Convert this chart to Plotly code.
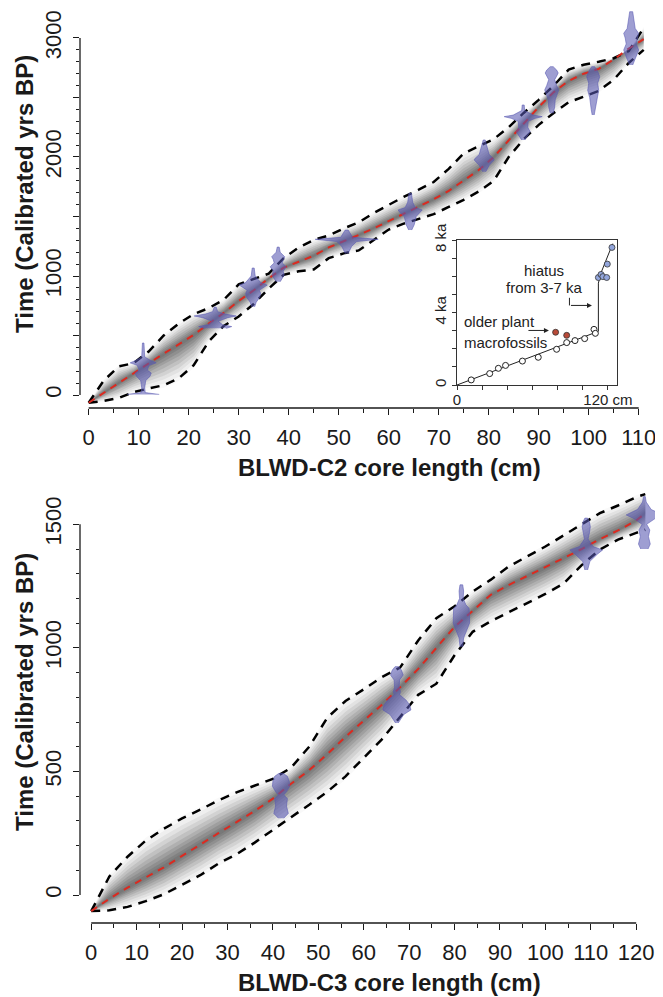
import numpy as np
import plotly.graph_objects as go

# ---------------- BLWD-C2 age-depth model ----------------
c2_depth = list(range(0, 112, 3))
c2_mean = [-65, 18, 100, 180, 265, 348, 425, 505, 600, 690, 790, 880, 980, 1070, 1120, 1170,
           1240, 1290, 1345, 1400, 1460, 1520, 1580, 1645, 1715, 1800, 1890, 2000, 2140, 2285,
           2420, 2545, 2640, 2700, 2740, 2820, 2910, 2990]
c2_upper = [-65, 120, 240, 268, 365, 500, 600, 680, 730, 800, 930, 975, 1020, 1150, 1240, 1303,
            1340, 1400, 1450, 1530, 1600, 1665, 1725, 1790, 1900, 2030, 2090, 2150, 2250, 2370,
            2480, 2600, 2735, 2775, 2800, 2830, 2890, 3085]
c2_lower = [-65, -50, -25, 25, 55, 82, 140, 250, 450, 580, 660, 765, 895, 1010, 1040, 1055,
            1150, 1190, 1215, 1300, 1390, 1440, 1480, 1520, 1580, 1640, 1710, 1800, 2000, 2150,
            2270, 2370, 2460, 2510, 2555, 2650, 2790, 2900]

# calibrated date distributions for C2: depth, ages, half-widths (cm)
c2_dates = [
    (10.9, [5, 12, 20, 60, 120, 160, 185, 210, 250, 270, 290, 320, 380, 437],
           [3.2, 1.5, 0.4, 0.3, 0.5, 1.4, 1.6, 0.8, 1.2, 2.6, 1.5, 0.3, 0.25, 0.15]),
    (25.3, [560, 575, 590, 620, 650, 664, 680, 700, 739],
           [2.2, 3.3, 1.5, 0.6, 2.5, 4.2, 2.0, 0.5, 0.2]),
    (32.9, [742, 780, 820, 855, 880, 905, 924, 945, 1000, 1067],
           [0.3, 0.6, 1.3, 1.5, 1.2, 2.2, 2.8, 1.5, 0.4, 0.2]),
    (37.9, [952, 990, 1008, 1040, 1078, 1110, 1140, 1162, 1200, 1243],
           [0.4, 1.0, 1.2, 1.0, 1.6, 0.8, 1.0, 1.3, 0.4, 0.2]),
    (51.6, [1190, 1250, 1290, 1308, 1325, 1350, 1386],
           [0.3, 1.0, 2.0, 6.3, 1.2, 0.8, 0.3]),
    (64.3, [1386, 1430, 1500, 1540, 1555, 1575, 1620, 1695],
           [0.3, 0.8, 1.2, 2.2, 2.4, 1.0, 0.5, 0.25]),
    (79.1, [1876, 1930, 1975, 1990, 2020, 2080, 2143],
           [0.3, 1.0, 2.0, 1.8, 1.0, 0.6, 0.2]),
    (86.9, [2143, 2180, 2213, 2250, 2300, 2325, 2339, 2352, 2390, 2437],
           [0.3, 0.9, 1.4, 0.9, 1.0, 2.4, 3.8, 2.0, 0.3, 0.2]),
    (92.6, [2368, 2420, 2480, 2530, 2563, 2600, 2650, 2680, 2706, 2730, 2759],
           [0.3, 0.6, 0.7, 1.1, 1.4, 1.0, 0.6, 1.0, 1.3, 1.0, 0.3]),
    (100.9, [2353, 2400, 2500, 2560, 2620, 2675, 2710, 2759],
            [0.2, 0.4, 0.7, 1.1, 0.9, 1.3, 1.0, 0.3]),
    (108.5, [2773, 2830, 2899, 2950, 3000, 3039, 3080, 3150, 3221],
            [0.3, 0.9, 1.5, 1.0, 1.2, 1.5, 0.8, 0.6, 0.3]),
]

# ---------------- BLWD-C3 age-depth model ----------------
c3_depth = list(range(0, 121, 4)) + [122]
c3_mean = [-65, -15, 30, 70, 112, 158, 205, 250, 295, 340, 390, 450, 505, 570, 640, 705,
           770, 840, 915, 1000, 1085, 1150, 1215, 1255, 1290, 1325, 1363, 1400, 1440, 1475,
           1515, 1545]
c3_upper = [-65, 75, 155, 220, 268, 310, 345, 383, 415, 443, 470, 515, 600, 718, 785, 832,
            882, 920, 1030, 1120, 1168, 1228, 1276, 1330, 1370, 1410, 1455, 1500, 1545, 1576,
            1610, 1622]
c3_lower = [-65, -62, -48, -25, 3, 40, 80, 127, 165, 212, 265, 315, 365, 418, 480, 555,
            630, 720, 810, 855, 970, 1065, 1108, 1145, 1180, 1218, 1260, 1335, 1398, 1438,
            1465, 1478]

c3_dates = [
    (41.8, [311, 330, 360, 390, 405, 418, 440, 460, 480, 492],
           [0.6, 1.6, 1.2, 1.4, 0.6, 1.2, 1.9, 1.8, 1.4, 0.5]),
    (67.3, [696, 730, 749, 770, 789, 810, 823, 840, 870, 890, 910, 924],
           [0.3, 1.5, 3.1, 2.8, 2.0, 0.6, 0.8, 0.5, 0.6, 1.4, 1.0, 0.4]),
    (81.5, [1005, 1040, 1072, 1100, 1130, 1160, 1174, 1200, 1230, 1255],
           [0.3, 0.5, 1.2, 1.8, 1.8, 1.7, 1.0, 0.4, 0.5, 0.3]),
    (109.0, [1315, 1350, 1380, 1396, 1410, 1440, 1465, 1490, 1510, 1525],
            [0.3, 0.8, 2.5, 3.6, 1.5, 0.4, 0.7, 0.9, 0.7, 0.3]),
    (121.8, [1400, 1420, 1450, 1477, 1500, 1525, 1538, 1560, 1590, 1612],
            [0.8, 1.3, 0.9, 1.2, 0.5, 2.5, 4.0, 1.5, 0.4, 0.2]),
]

# ---------------- inset (full core) ----------------
inset_line_x = [0, 111.5, 112.4, 112.4, 114.5, 123.8]
inset_line_y = [0, 2.95, 2.96, 5.62, 6.19, 7.8]
inset_open_x = [11.3, 26.0, 32.9, 38.6, 52.0, 64.6, 79.2, 87.2, 93.8, 101.5, 108.9, 110.0]
inset_open_y = [0.28, 0.63, 0.92, 1.08, 1.32, 1.53, 1.97, 2.34, 2.45, 2.56, 3.07, 2.85]
inset_red_x = [78.4, 87.2]
inset_red_y = [2.91, 2.74]
inset_blue_x = [112.4, 114.5, 116.0, 119.0, 119.5, 123.2]
inset_blue_y = [5.93, 6.10, 5.98, 5.93, 6.67, 7.59]

FONT = "Liberation Sans, Arial, Helvetica, sans-serif"
INK = "#1a1a1a"
VIOLIN = "rgba(88,88,178,0.58)"

# page body has an 8px margin: figure is sized to fit inside the 663x997 window
W, H = 655, 989
ML, MB = 72, 74
PH = H - MB          # plot-area height (top margin 0)

fig = go.Figure()


def add_model(depth, mean, upper, lower, dates, xa, ya):
    d = np.array(depth, float)
    m = np.array(mean, float)
    u = np.array(upper, float)
    lo = np.array(lower, float)
    # grey cloud built from nested bands (lighter towards the dashed bounds)
    bands = [(1.08, 0.03), (0.95, 0.05), (0.82, 0.07), (0.7, 0.09), (0.58, 0.11),
             (0.46, 0.12), (0.35, 0.14), (0.25, 0.15), (0.15, 0.15), (0.07, 0.12)]
    for f, a in bands:
        up = m + f * (u - m)
        dn = m - f * (m - lo)
        fig.add_trace(go.Scatter(
            x=np.concatenate([d, d[::-1]]), y=np.concatenate([up, dn[::-1]]),
            fill="toself", fillcolor=f"rgba(55,55,55,{a})", line=dict(width=0),
            mode="lines", hoverinfo="skip", xaxis=xa, yaxis=ya))
    for arr in (upper, lower):
        fig.add_trace(go.Scatter(x=depth, y=arr, mode="lines",
                                 line=dict(color="black", width=2.5, dash="9px,7px"),
                                 xaxis=xa, yaxis=ya))
    fig.add_trace(go.Scatter(x=depth, y=mean, mode="lines",
                             line=dict(color="#dc2a20", width=2, dash="7px,6px"),
                             xaxis=xa, yaxis=ya))
    for dep, ages, w in dates:
        xs = [dep + v for v in w] + [dep - v for v in w[::-1]]
        ys = list(ages) + list(ages[::-1])
        fig.add_trace(go.Scatter(x=xs, y=ys, fill="toself", fillcolor=VIOLIN,
                                 line=dict(color="rgba(88,88,178,0.7)", width=0.8),
                                 mode="lines", xaxis=xa, yaxis=ya))


add_model(c2_depth, c2_mean, c2_upper, c2_lower, c2_dates, "x", "y")
add_model(c3_depth, c3_mean, c3_upper, c3_lower, c3_dates, "x2", "y2")

# inset traces
fig.add_trace(go.Scatter(x=inset_line_x, y=inset_line_y, mode="lines",
                         line=dict(color="#222", width=1), xaxis="x3", yaxis="y3"))
fig.add_trace(go.Scatter(x=inset_open_x, y=inset_open_y, mode="markers",
                         marker=dict(size=6, color="white", line=dict(color="#222", width=1)),
                         xaxis="x3", yaxis="y3"))
fig.add_trace(go.Scatter(x=inset_red_x, y=inset_red_y, mode="markers",
                         marker=dict(size=6, color="#b84a38", line=dict(color="#333", width=0.8)),
                         xaxis="x3", yaxis="y3"))
fig.add_trace(go.Scatter(x=inset_blue_x, y=inset_blue_y, mode="markers",
                         marker=dict(size=6, color="#93a6dc", line=dict(color="#333", width=0.8)),
                         xaxis="x3", yaxis="y3"))

tick_font = dict(family=FONT, size=22, color=INK)


def xaxis_def(rng, maj, mnr, anchor):
    return dict(domain=[0, 1], anchor=anchor, range=rng, tickmode="array", tickvals=maj,
                ticktext=[str(v) for v in maj], ticks="outside", ticklen=6, tickwidth=1.3,
                tickcolor=INK, showline=False, zeroline=False, showgrid=False,
                automargin=False, tickfont=tick_font, ticklabelstandoff=4,
                minor=dict(tickmode="array", tickvals=mnr, ticks="outside", ticklen=3.5,
                           tickwidth=1.2, tickcolor=INK, showgrid=False))


def yaxis_def(rng, maj, labels, mnr, dom, anchor):
    return dict(domain=dom, anchor=anchor, range=rng, tickmode="array", tickvals=maj,
                ticktext=labels, ticks="outside", ticklen=6, tickwidth=1.3, tickcolor=INK,
                showline=False, zeroline=False, showgrid=False, tickangle=-90,
                automargin=False, tickfont=tick_font, ticklabelstandoff=3,
                minor=dict(tickmode="array", tickvals=mnr, ticks="outside", ticklen=3.5,
                           tickwidth=1.2, tickcolor=INK, showgrid=False))


def py(pix):
    """reference-pixel row -> paper fraction"""
    return (PH - (pix - 8)) / PH


def px(pix):
    """reference-pixel column -> paper fraction"""
    return (pix - 8 - ML) / (W - ML)


c2_ymaj = list(range(0, 3001, 500))
c2_ylab = [str(v) if v % 1000 == 0 else "" for v in c2_ymaj]
c2_ymin = [v for v in range(100, 3000, 100) if v % 500]
c3_ymaj = list(range(0, 1501, 500))
c3_ylab = [str(v) for v in c3_ymaj]
c3_ymin = [v for v in range(100, 1500, 100) if v % 500]

fig.update_layout(
    template="none",
    width=W, height=H, margin=dict(l=ML, r=0, t=0, b=MB, autoexpand=False),
    paper_bgcolor="white", plot_bgcolor="white", showlegend=False,
    font=dict(family=FONT, color=INK),
    xaxis=xaxis_def([-1.74, 114.86], list(range(0, 111, 10)), list(range(5, 110, 10)), "y"),
    yaxis=yaxis_def([-109.2, 3252], c2_ymaj, c2_ylab, c2_ymin, [py(408), 1], "x"),
    xaxis2=xaxis_def([-2.47, 125.9], list(range(0, 121, 10)), list(range(5, 120, 10)), "y2"),
    yaxis2=yaxis_def([-113.3, 1659], c3_ymaj, c3_ylab, c3_ymin, [0, py(485)], "x2"),
    xaxis3=dict(domain=[px(457), px(617)], anchor="y3", range=[0, 127.2], tickmode="array",
                tickvals=[0, 20, 40, 60, 80, 100, 120],
                ticktext=["0", "", "", "", "", "", "120 cm"],
                ticks="outside", ticklen=4, tickwidth=1, tickcolor="#333",
                showline=True, mirror=True, linecolor="#333", linewidth=1,
                zeroline=False, showgrid=False, automargin=False, ticklabelstandoff=-3,
                tickfont=dict(family=FONT, size=15, color="#222")),
    yaxis3=dict(domain=[py(385), py(240)], anchor="x3", range=[0, 8], tickmode="array",
                tickvals=list(range(0, 9)),
                ticktext=["0", "", "", "", "4 ka", "", "", "", "8 ka"],
                ticks="outside", ticklen=4, tickwidth=1, tickcolor="#333", tickangle=-90,
                showline=True, mirror=True, linecolor="#333", linewidth=1,
                zeroline=False, showgrid=False, automargin=False, ticklabelstandoff=0,
                tickfont=dict(family=FONT, size=15, color="#222")),
)

axis_line = dict(color=INK, width=1.3)
fig.add_shape(type="line", xref="x", yref="y domain", x0=0, x1=110, y0=0, y1=0, line=axis_line)
fig.add_shape(type="line", xref="x domain", yref="y", x0=0, x1=0, y0=0, y1=3000, line=axis_line)
fig.add_shape(type="line", xref="x2", yref="y2 domain", x0=0, x1=120, y0=0, y1=0, line=axis_line)
fig.add_shape(type="line", xref="x2 domain", yref="y2", x0=0, x1=0, y0=0, y1=1500, line=axis_line)

title_font = dict(family=FONT, size=24, color=INK)
ann = [
    dict(text="<b>BLWD-C2 core length (cm)</b>", xref="paper", yref="paper",
         x=px(389), y=py(467), showarrow=False, font=title_font, xanchor="center", yanchor="middle"),
    dict(text="<b>BLWD-C3 core length (cm)</b>", xref="paper", yref="paper",
         x=px(389), y=py(982), showarrow=False, font=title_font, xanchor="center", yanchor="middle"),
    dict(text="<b>Time (Calibrated yrs BP)</b>", xref="paper", yref="paper",
         x=px(24), y=py(194), showarrow=False, font=title_font, textangle=-90,
         xanchor="center", yanchor="middle"),
    dict(text="<b>Time (Calibrated yrs BP)</b>", xref="paper", yref="paper",
         x=px(24), y=py(692), showarrow=False, font=title_font, textangle=-90,
         xanchor="center", yanchor="middle"),
]
inset_font = dict(family=FONT, size=15, color="#222")
ann += [
    dict(text="hiatus", xref="x3", yref="y3", x=69.2, y=6.30, showarrow=False, font=inset_font),
    dict(text="from 3-7 ka", xref="x3", yref="y3", x=69.2, y=5.36, showarrow=False, font=inset_font),
    dict(text="older plant", xref="x3", yref="y3", x=4.0, y=3.48, showarrow=False,
         font=inset_font, xanchor="left"),
    dict(text="macrofossils", xref="x3", yref="y3", x=4.0, y=2.32, showarrow=False,
         font=inset_font, xanchor="left"),
    dict(text="", xref="x3", yref="y3", x=73.1, y=3.01, ax=55.6, ay=3.01, axref="x3", ayref="y3",
         showarrow=True, arrowhead=2, arrowsize=1, arrowwidth=1, arrowcolor="#222"),
    dict(text="", xref="x3", yref="y3", x=107.3, y=4.39, ax=89.4, ay=4.39, axref="x3", ayref="y3",
         showarrow=True, arrowhead=2, arrowsize=1, arrowwidth=1, arrowcolor="#222"),
]
fig.update_layout(annotations=ann)
fig.add_shape(type="line", xref="x3", yref="y3", x0=89.4, x1=89.4, y0=4.81, y1=4.39,
              line=dict(color="#222", width=1))

fig.write_html("out.html")
